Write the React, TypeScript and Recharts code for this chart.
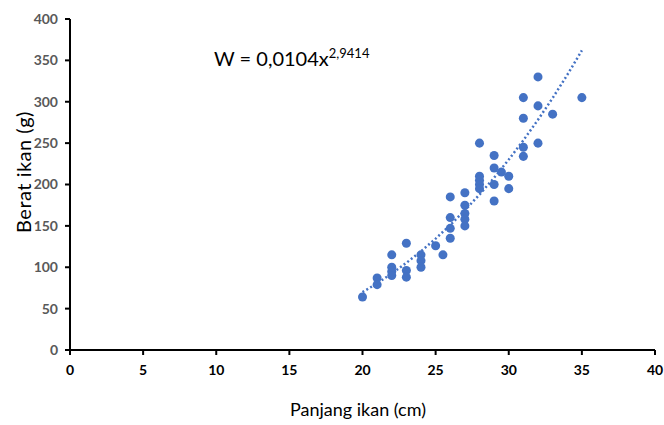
import React from 'react';
import { ScatterChart, Scatter, XAxis, YAxis, ZAxis } from 'recharts';

// panjang (cm) / berat (g) pairs
const panjang = [
  20, 21, 21, 22, 22, 22, 22, 23, 23, 23, 24, 24, 24, 25, 25.5,
  26, 26, 26, 26, 27, 27, 27, 27, 27, 28, 28, 28, 28, 28,
  29, 29, 29, 29, 29.5, 30, 30, 31, 31, 31, 31, 32, 32, 32, 33, 35,
];
const berat = [
  64, 87, 79, 115, 100, 95, 90, 129, 96, 88, 115, 108, 100, 126, 115,
  185, 160, 147, 135, 190, 175, 165, 158, 150, 250, 210, 205, 200, 195,
  235, 220, 200, 180, 215, 210, 195, 305, 280, 245, 234, 330, 295, 250, 285, 305,
];

// power trendline W = 0,0104x^2,9414
const trendX = [20, 21, 22, 23, 24, 25, 26, 27, 28, 29, 30, 31, 32, 33, 34, 35];
const trendY = [69.9, 80.6, 92.4, 105.3, 119.3, 134.6, 151.0, 168.8, 187.8, 208.2, 230.1, 253.4, 278.2, 304.5, 332.4, 362.0];

const xTicks = [0, 5, 10, 15, 20, 25, 30, 35, 40];
const yTicks = [0, 50, 100, 150, 200, 250, 300, 350, 400];

const BLUE = '#4472C4';
const FONT = 'Lato, "Open Sans", sans-serif';

export default function App() {
  const points = panjang.map((x, i) => ({ x, y: berat[i] }));
  const trend = trendX.map((x, i) => ({ x, y: trendY[i] }));

  return (
    <div style={{ position: 'absolute', left: 0, top: 0, width: 664, height: 425, background: '#fff', fontFamily: FONT }}>
      <ScatterChart width={664} height={425} margin={{ top: 19, right: 9, bottom: 35, left: 20 }}>
        <XAxis
          type="number"
          dataKey="x"
          domain={[0, 40]}
          ticks={xTicks}
          interval={0}
          height={40}
          stroke="#000"
          strokeWidth={2}
          tickSize={5}
          tickMargin={10}
          tick={{ fill: '#000', fontSize: 14, fontWeight: 700, fontFamily: FONT }}
        />
        <YAxis
          type="number"
          dataKey="y"
          domain={[0, 400]}
          ticks={yTicks}
          interval={0}
          width={50}
          stroke="#000"
          strokeWidth={2}
          tickSize={5}
          tickMargin={7}
          tick={{ fill: '#595959', fontSize: 14, fontWeight: 700, fontFamily: FONT }}
        />
        <ZAxis range={[150, 150]} />
        <Scatter
          data={trend}
          isAnimationActive={false}
          line={{ stroke: BLUE, strokeWidth: 2.5, strokeDasharray: '2 2.5' }}
          lineType="joint"
          shape={() => <g />}
        />
        <Scatter data={points} fill={BLUE} shape="circle" isAnimationActive={false} />
      </ScatterChart>
      <div
        style={{
          position: 'absolute', left: 8, top: 172, transform: 'translate(-50%, -50%) rotate(-90deg)',
          marginLeft: 15, fontSize: 20, color: '#000', whiteSpace: 'nowrap', letterSpacing: 0.5,
        }}
      >
        Berat ikan (g)
      </div>
      <div style={{ position: 'absolute', left: 0, width: 716, top: 398, textAlign: 'center', fontSize: 18, color: '#000' }}>
        Panjang ikan (cm)
      </div>
      <div style={{ position: 'absolute', left: 214, top: 45, fontSize: 20, color: '#000', whiteSpace: 'nowrap' }}>
        W = 0,0104x<sup style={{ fontSize: 13 }}>2,9414</sup>
      </div>
    </div>
  );
}
